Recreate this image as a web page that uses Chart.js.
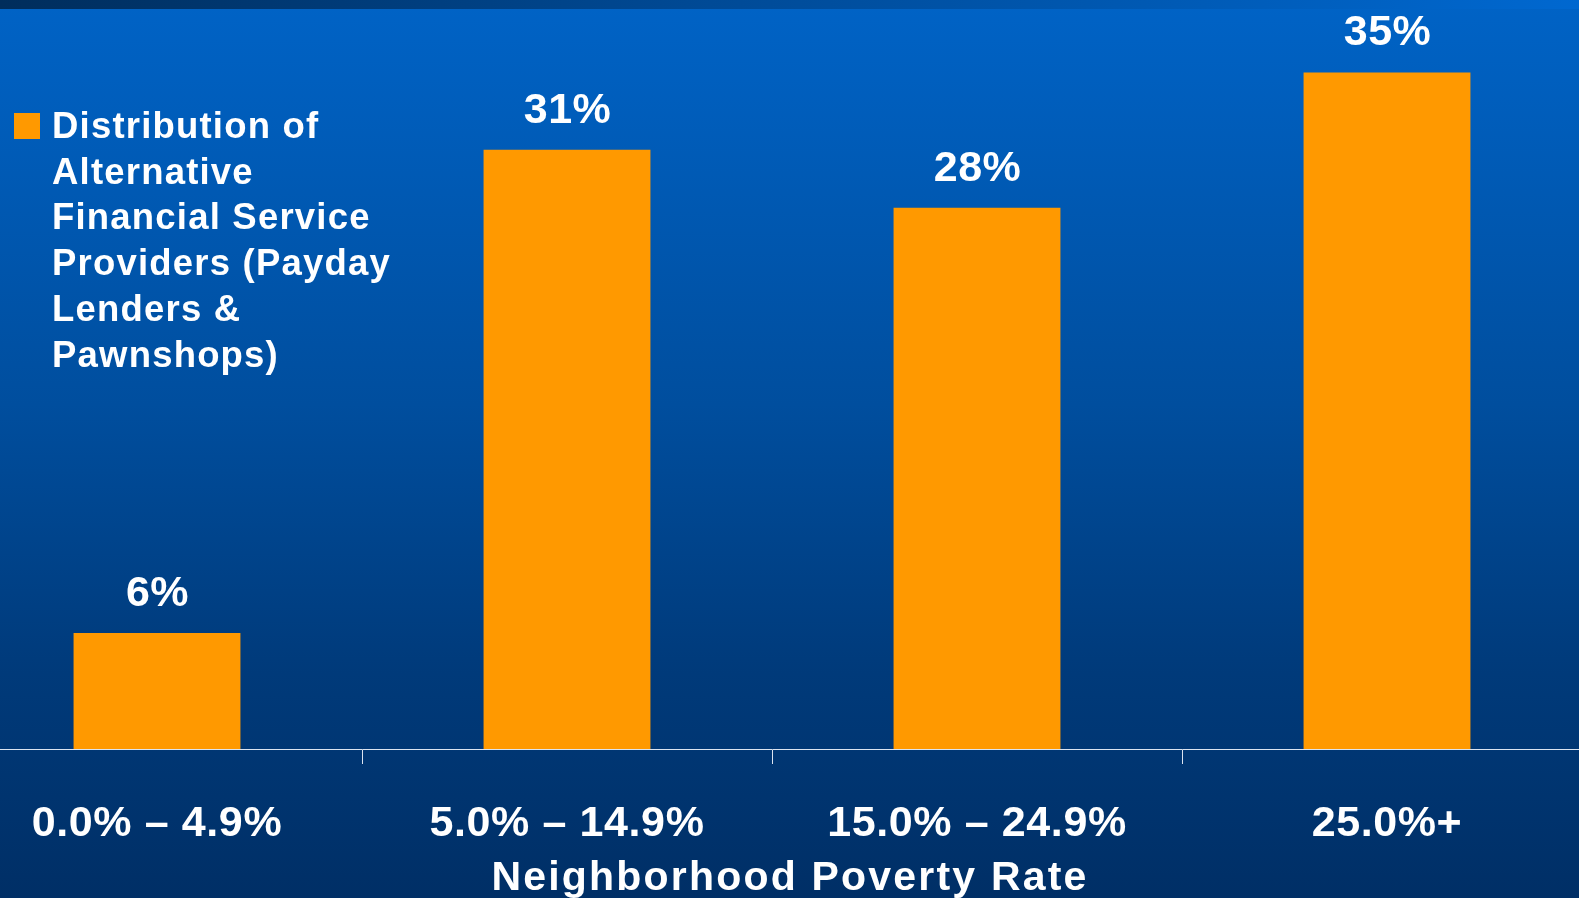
<!DOCTYPE html>
<html>
<head>
<meta charset="utf-8">
<title>Neighborhood Poverty Rate</title>
<script src="https://cdn.jsdelivr.net/npm/chart.js@4.4.1/dist/chart.umd.min.js"></script>
<style>
  html, body {
    margin: 0;
    padding: 0;
    width: 1579px;
    height: 898px;
    overflow: hidden;
    font-family: "Liberation Sans", Arial, sans-serif;
  }
  body {
    position: relative;
    background: linear-gradient(to bottom, #0063c6 0%, #004e9e 45%, #003a7a 75%, #002f66 100%);
  }
  /* thin banner strip along the top edge */
  .top-strip {
    position: absolute;
    left: 0; top: 0;
    width: 1579px; height: 9px;
    background: linear-gradient(to right, #002d5c 0%, #004a96 45%, #0068d0 100%);
  }
  .chart-wrap {
    position: absolute;
    left: -48px; top: 0;
    width: 1640px; height: 898px;
  }
  #legend {
    position: absolute;
    left: 14px; top: 103px;
    color: #ffffff;
    font-weight: bold;
    font-size: 36.5px;
    line-height: 45.7px;
    letter-spacing: 1.2px;
  }
  #legend .swatch {
    position: absolute;
    left: 0; top: 10px;
    width: 26px; height: 26px;
  }
  #legend .text {
    margin-left: 38px;
    white-space: nowrap;
  }
</style>
</head>
<body>
<div class="top-strip"></div>
<div class="chart-wrap"><canvas id="povertyChart" width="1640" height="898"></canvas></div>
<div id="legend"></div>

<script>
// Share of payday lenders & pawnshops by neighborhood poverty rate
const categories = ['0.0% – 4.9%', '5.0% – 14.9%', '15.0% – 24.9%', '25.0%+'];
const shares = [6, 31, 28, 35];
const seriesLines = ['Distribution of', 'Alternative', 'Financial Service', 'Providers (Payday', 'Lenders &', 'Pawnshops)'];
const axisTitle = 'Neighborhood Poverty Rate';

const BAR_COLOR = '#ff9900';
const FONT = '"Liberation Sans", Arial, sans-serif';

// Tick labels on this slide are slightly spread out
const spacingPlugin = {
    id: 'spacing',
    beforeDraw(chart) {
        chart.ctx.letterSpacing = '0.6px';
    }
};

// Percent labels above each bar
const valueLabels = {
    id: 'valueLabels',
    afterDatasetsDraw(chart) {
        const ctx = chart.ctx;
        const meta = chart.getDatasetMeta(0);
        ctx.save();
        ctx.font = 'bold 43px ' + FONT;
        ctx.letterSpacing = '0.5px';
        ctx.fillStyle = '#ffffff';
        ctx.textAlign = 'center';
        ctx.textBaseline = 'alphabetic';
        meta.data.forEach((bar, i) => {
            ctx.fillText(shares[i] + '%', bar.x + 0.5, bar.y - 27);
        });
        ctx.restore();
    }
};

// Axis caption under the tick labels
const axisCaption = {
    id: 'axisCaption',
    afterDraw(chart) {
        const ctx = chart.ctx;
        const area = chart.chartArea;
        ctx.save();
        ctx.font = 'bold 41px ' + FONT;
        ctx.letterSpacing = '2.2px';
        ctx.fillStyle = '#ffffff';
        ctx.textAlign = 'center';
        ctx.textBaseline = 'alphabetic';
        ctx.fillText(axisTitle, (area.left + area.right) / 2 + 18, 890);
        ctx.restore();
    }
};

const chart = new Chart(document.getElementById('povertyChart'), {
    type: 'bar',
    data: {
        labels: categories,
        datasets: [{
            label: seriesLines.join(' '),
            data: shares,
            backgroundColor: BAR_COLOR,
            borderWidth: 0,
            barPercentage: 0.407,
            categoryPercentage: 1
        }]
    },
    options: {
        responsive: false,
        animation: false,
        layout: { padding: 0 },
        plugins: {
            legend: { display: false },
            tooltip: { enabled: false }
        },
        scales: {
            x: {
                grid: {
                    display: true,
                    drawOnChartArea: false,
                    drawTicks: true,
                    tickLength: 15,
                    color: '#dce4f0',
                    offset: true
                },
                border: { display: true, color: '#dce4f0', width: 1 },
                ticks: {
                    color: '#ffffff',
                    padding: 34,
                    font: { family: FONT, size: 43, weight: 'bold' }
                },
                afterFit(scale) {
                    scale.height = 149;
                }
            },
            y: {
                display: false,
                min: 0,
                max: 38.75
            }
        }
    },
    plugins: [spacingPlugin, valueLabels, axisCaption]
});

// Legend block on the left, built from the dataset
const legendEl = document.getElementById('legend');
const ds = chart.data.datasets[0];
legendEl.innerHTML =
    '<span class="swatch" style="background:' + ds.backgroundColor + '"></span>' +
    '<div class="text">' + seriesLines.join('<br>') + '</div>';
</script>
</body>
</html>
